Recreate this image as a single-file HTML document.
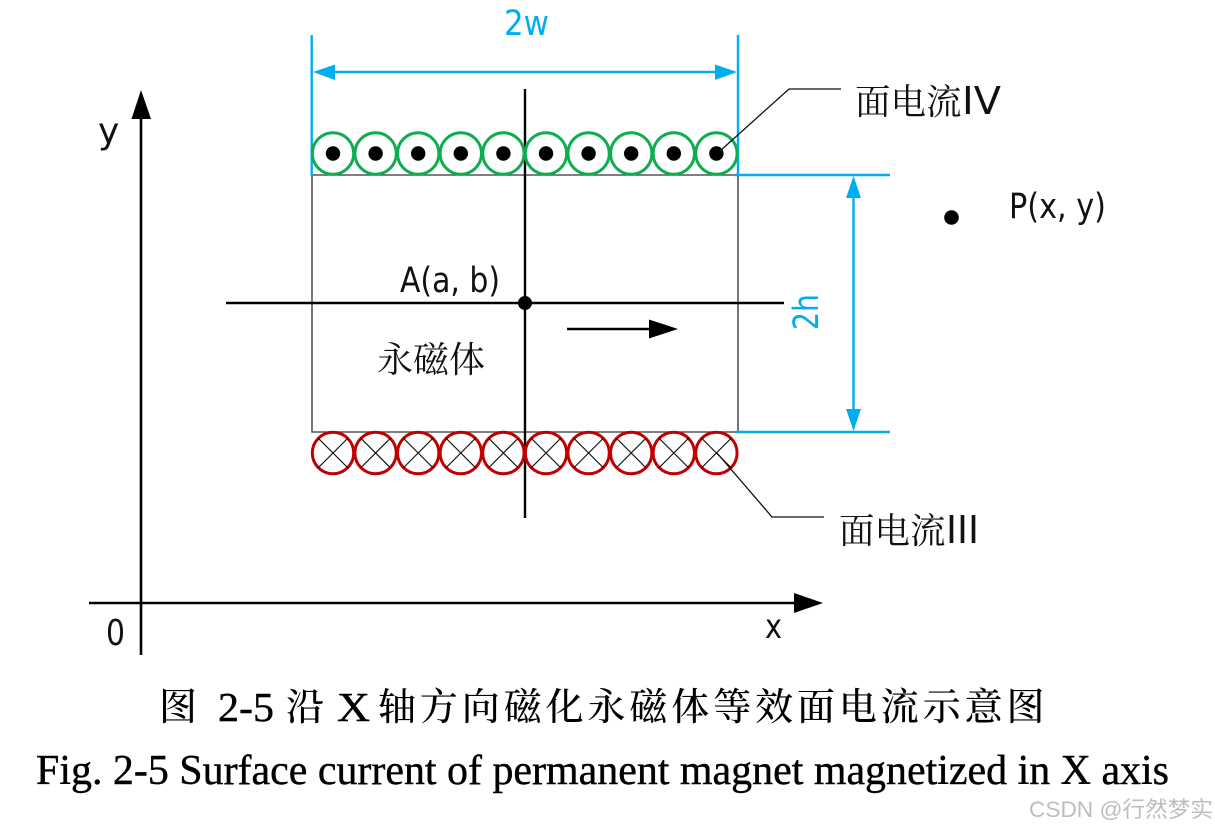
<!DOCTYPE html>
<html><head><meta charset="utf-8"><style>
html,body{margin:0;padding:0;background:#fff;width:1215px;height:830px;overflow:hidden}
svg{display:block}
.l{font-family:"DejaVu Sans","Noto Sans CJK SC",sans-serif;fill:#111}
.c{font-family:"Noto Serif CJK SC",serif;fill:#111;font-weight:400}
.b{font-family:"DejaVu Sans",sans-serif;fill:#00aeef}
.s{font-family:"Noto Serif CJK SC",serif;fill:#000;font-size:38px;letter-spacing:3.900px;font-weight:500}
.t{font-family:"Liberation Serif",serif;fill:#000}
</style></head><body>
<svg width="1215" height="830" viewBox="0 0 1215 830" xmlns="http://www.w3.org/2000/svg">
<rect width="1215" height="830" fill="#fff"/>
<!-- axes -->
<path d="M141 655V115M89 603H796" stroke="#000" stroke-width="2.600" fill="none"/>
<path d="M141 90L131.500 119H151Z M823 603L794 593V613Z" fill="#000"/>
<!-- rect -->
<path d="M312 175V432H738V175Z" stroke="#555" stroke-width="1.600" fill="none"/>
<!-- blue dims -->
<g stroke="#00aeef" fill="none">
<path d="M311.700 35V176M738 35V176" stroke-width="2.400"/>
<path d="M330 72H722" stroke-width="2.400"/>
<path d="M735 175H890M735 432H890" stroke-width="2.400"/>
<path d="M853.500 195V412" stroke-width="2.400"/>
</g>
<path d="M313 72L335 64.500V80Z M737 72L715 64.500V80Z M853.500 176L846 198H861Z M853.500 431L846 409H861Z" fill="#00aeef"/>
<!-- crosshair -->
<path d="M525 89V518M226 303H784" stroke="#000" stroke-width="2.400" fill="none"/>
<circle cx="525" cy="303" r="7" fill="#000"/>
<path d="M567 329H650" stroke="#000" stroke-width="2.400"/>
<path d="M678 329L649 319.500V338.500Z" fill="#000"/>
<circle cx="951.500" cy="217.500" r="7.300" fill="#000"/>
<!-- green coils -->
<g fill="#fff" stroke="#0ead4f" stroke-width="3">
<circle cx="333" cy="153.500" r="20.700"/><circle cx="375.600" cy="153.500" r="20.700"/><circle cx="418.200" cy="153.500" r="20.700"/><circle cx="460.800" cy="153.500" r="20.700"/><circle cx="503.400" cy="153.500" r="20.700"/><circle cx="546" cy="153.500" r="20.700"/><circle cx="588.600" cy="153.500" r="20.700"/><circle cx="631.200" cy="153.500" r="20.700"/><circle cx="673.800" cy="153.500" r="20.700"/><circle cx="716.400" cy="153.500" r="20.700"/>
</g>
<g fill="#000">
<circle cx="333" cy="153.500" r="7.200"/><circle cx="375.600" cy="153.500" r="7.200"/><circle cx="418.200" cy="153.500" r="7.200"/><circle cx="460.800" cy="153.500" r="7.200"/><circle cx="503.400" cy="153.500" r="7.200"/><circle cx="546" cy="153.500" r="7.200"/><circle cx="588.600" cy="153.500" r="7.200"/><circle cx="631.200" cy="153.500" r="7.200"/><circle cx="673.800" cy="153.500" r="7.200"/><circle cx="716.400" cy="153.500" r="7.200"/>
</g>
<!-- red coils -->
<g fill="none" stroke="#c00000" stroke-width="3">
<circle cx="333" cy="453" r="20.700"/><circle cx="375.600" cy="453" r="20.700"/><circle cx="418.200" cy="453" r="20.700"/><circle cx="460.800" cy="453" r="20.700"/><circle cx="503.400" cy="453" r="20.700"/><circle cx="546" cy="453" r="20.700"/><circle cx="588.600" cy="453" r="20.700"/><circle cx="631.200" cy="453" r="20.700"/><circle cx="673.800" cy="453" r="20.700"/><circle cx="716.400" cy="453" r="20.700"/>
</g>
<g stroke="#111" stroke-width="1.200" fill="none">
<path d="M318 438l30 30M348 438l-30 30M360.600 438l30 30M390.600 438l-30 30M403.200 438l30 30M433.200 438l-30 30M445.800 438l30 30M475.800 438l-30 30M488.400 438l30 30M518.400 438l-30 30M531 438l30 30M561 438l-30 30M573.600 438l30 30M603.600 438l-30 30M616.200 438l30 30M646.200 438l-30 30M658.800 438l30 30M688.800 438l-30 30M701.400 438l30 30M731.400 438l-30 30"/>
</g>
<!-- leaders -->
<path d="M720 151L789 89H841" stroke="#111" stroke-width="1.300" fill="none"/>
<path d="M717 453L772 517H824" stroke="#111" stroke-width="1.300" fill="none"/>
<!-- labels -->
<text class="b" x="504" y="35" font-size="35" textLength="45" lengthAdjust="spacingAndGlyphs">2w</text>
<text class="b" transform="translate(818,330) rotate(-90)" font-size="35" textLength="36" lengthAdjust="spacingAndGlyphs">2h</text>
<text class="c" x="855" y="114" font-size="35.500">面电流</text>
<text class="l" x="962" y="114" font-size="38" textLength="39" lengthAdjust="spacingAndGlyphs">IV</text>
<text class="c" x="839" y="543" font-size="35.500">面电流</text>
<text class="l" x="946" y="543" font-size="38" textLength="33" lengthAdjust="spacingAndGlyphs">III</text>
<text class="l" x="1009" y="218" font-size="35" textLength="97" lengthAdjust="spacingAndGlyphs">P(x, y)</text>
<text class="l" x="400" y="292" font-size="35" textLength="100" lengthAdjust="spacingAndGlyphs">A(a, b)</text>
<text class="c" x="377" y="372" font-size="36">永磁体</text>
<text class="l" x="98" y="143" font-size="36">y</text>
<text class="l" x="106" y="645" font-size="36" textLength="19" lengthAdjust="spacingAndGlyphs">0</text>
<text class="l" x="765" y="638" font-size="34" textLength="17" lengthAdjust="spacingAndGlyphs">x</text>
<!-- captions -->
<text class="s" x="159" y="720">图</text>
<text class="t" x="218" y="721" font-size="41" textLength="56" lengthAdjust="spacingAndGlyphs" stroke="#000" stroke-width="0.400">2-5</text>
<text class="s" x="286" y="720">沿</text>
<text class="t" x="337" y="721" font-size="41" textLength="33" lengthAdjust="spacingAndGlyphs" stroke="#000" stroke-width="0.400">X</text>
<text class="s" x="378" y="720">轴方向磁化永磁体等效面电流示意图</text>
<text class="t" x="36" y="784" font-size="42" textLength="1133" lengthAdjust="spacingAndGlyphs" stroke="#000" stroke-width="0.400">Fig. 2-5 Surface current of permanent magnet magnetized in X axis</text>
<!-- watermark -->
<text x="1029" y="817" font-family="'Liberation Sans','Noto Sans CJK SC',sans-serif" font-size="22" fill="#bdbdbd" textLength="184" lengthAdjust="spacingAndGlyphs">CSDN @行然梦实</text>
</svg>
</body></html>
